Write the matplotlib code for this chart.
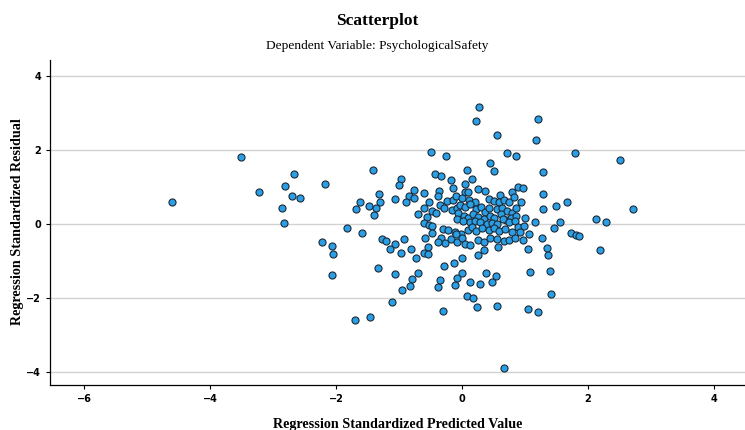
import matplotlib
matplotlib.use("Agg")
import matplotlib.pyplot as plt

# standardized predicted value (x) and standardized residual (y)
pred = [
    -3.50, -4.61, -2.67, -2.81, -3.23, -2.17, -2.70, -2.57, -2.85, -2.82,
    -2.23, -2.07, -2.04, -2.07,
    -0.49, -1.41, -0.97, -1.00, -0.77, -1.31, -0.61, -0.43, -0.84,
    -1.62, -1.69, -1.47, -1.30, -1.37, -1.39, -1.07, -0.89, -0.77, -0.52,
    -0.61, -0.48, -0.70, -0.56, -0.61, -0.52, -0.48, -1.82, -1.58, -1.27,
    -1.21, -0.92, -1.06, -0.59, -0.48, -1.14, -0.97, -0.81, -0.54, -0.60,
    -0.54, -0.73, -1.34, -1.06, -0.70, -0.79, -0.83, -0.95,
    -1.11, -1.46, -1.70,
    -0.31, 0.08, 0.18, 0.24, 0.56, 1.05, 1.21, 0.67, -0.38,
    1.41,
    0.27, 0.22, 0.55, 1.21, 1.17, -0.25, 0.71, 0.85, 0.45, 0.51,
    0.08, -0.34, -0.17, 0.04, 0.15, -0.15, -0.37, 0.25, 0.37, 0.04,
    0.09, 0.88, 0.96, 0.80, 0.61,
    1.80, 2.50, 1.28, 1.28,
    1.29, 1.49, 1.66, 2.72, 2.12, 2.28, 1.56, 1.46, 1.73, 1.81,
    1.85, 1.27, 1.35, 1.36, 2.19, 1.39,
    -0.38, -0.24, -0.14, -0.10, 0.00, 0.11, 0.20, 0.42, 0.50, 0.58,
    0.66, 0.74, 0.83, 0.93, -0.35, -0.28, -0.16, -0.08, -0.03, 0.04,
    0.13, 0.22, 0.30, 0.37, 0.43, 0.55, 0.63, 0.71, 0.80, 0.86,
    -0.41, -0.06, 0.03, 0.10, 0.17, 0.26, 0.35, 0.44, 0.51, 0.62,
    0.69, 0.77, 0.85, -0.08, 0.02, 0.13, 0.21, 0.29, 0.39, 0.47,
    0.56, 0.65, 0.75, 0.84, 1.00, 1.15, -0.30, -0.22, -0.11, -0.02,
    0.09, 0.15, 0.22, 0.31, 0.42, 0.50, 0.59, 0.68, 0.79, 0.88,
    0.99, 1.07, 0.92, -0.33, -0.27, -0.17, -0.09, -0.08, 0.00, 0.04,
    0.12, 0.25, 0.35, 0.44, 0.56, 0.57, 0.66, 0.75, 0.84, 0.96,
    1.04, 0.35, 0.26, -0.38, 0.00, -0.12, -0.29, 0.38, 0.54, 1.08,
    0.00, -0.08, -0.35, -0.11, 0.13, 0.29, 0.48,
]
resid = [
    1.80, 0.60, 1.35, 1.03, 0.86, 1.08, 0.76, 0.69, 0.44, 0.03,
    -0.49, -0.59, -0.81, -1.38,
    1.96, 1.46, 1.22, 1.05, 0.92, 0.82, 0.85, 1.34, 0.76,
    0.59, 0.41, 0.49, 0.60, 0.43, 0.25, 0.68, 0.59, 0.71, 0.59,
    0.42, 0.35, 0.28, 0.19, 0.03, -0.03, -0.06, -0.12, -0.25, -0.41,
    -0.45, -0.41, -0.54, -0.39, -0.24, -0.68, -0.78, -0.67, -0.61, -0.78,
    -0.82, -0.91, -1.18, -1.34, -1.33, -1.49, -1.67, -1.79,
    -2.12, -2.52, -2.59,
    -2.35, -1.96, -2.01, -2.25, -2.22, -2.29, -2.37, -3.89, -1.70,
    -1.88,
    3.16, 2.78, 2.41, 2.84, 2.27, 1.84, 1.91, 1.83, 1.66, 1.42,
    1.46, 1.29, 1.19, 1.07, 1.22, 0.97, 0.90, 0.95, 0.90, 0.87,
    0.86, 1.01, 0.97, 0.86, 0.79,
    1.92, 1.73, 1.41, 0.80,
    0.40, 0.48, 0.59, 0.41, 0.14, 0.05, 0.05, -0.10, -0.24, -0.29,
    -0.32, -0.39, -0.64, -0.85, -0.70, -1.26,
    0.76, 0.63, 0.65, 0.76, 0.71, 0.65, 0.60, 0.68, 0.62, 0.60,
    0.65, 0.59, 0.74, 0.60, 0.51, 0.44, 0.39, 0.42, 0.51, 0.47,
    0.53, 0.41, 0.47, 0.32, 0.44, 0.41, 0.42, 0.35, 0.29, 0.42,
    0.29, 0.31, 0.22, 0.17, 0.26, 0.20, 0.14, 0.22, 0.15, 0.26,
    0.12, 0.17, 0.22, 0.14, 0.08, 0.05, 0.08, 0.06, -0.01, 0.02,
    -0.01, 0.14, 0.06, 0.08, 0.15, 0.06, -0.14, -0.17, -0.21, -0.28,
    -0.15, -0.08, -0.19, -0.12, -0.15, -0.12, -0.19, -0.14, -0.22, -0.08,
    -0.05, -0.28, -0.21, -0.39, -0.52, -0.41, -0.26, -0.48, -0.37, -0.53,
    -0.57, -0.43, -0.48, -0.37, -0.41, -0.61, -0.46, -0.44, -0.37, -0.42,
    -0.68, -0.70, -0.84, -0.49, -0.91, -1.05, -1.14, -1.32, -1.41, -1.30,
    -1.32, -1.47, -1.51, -1.65, -1.58, -1.63, -1.58,
]

x_ticks = [-6, -4, -2, 0, 2, 4]
y_ticks = [-4, -2, 0, 2, 4]

serif = "Liberation Serif"

fig = plt.figure(figsize=(7.45, 4.3), dpi=100)
ax = fig.add_axes([0.067, 0.105, 0.933, 0.755])

ax.scatter(pred, resid, s=26, color="#2a9fe6", edgecolors="#1c2a38",
           linewidths=0.8, zorder=3)

ax.set_xlim(-6.54, 4.49)
ax.set_ylim(-4.35, 4.43)
ax.set_xticks(x_ticks)
ax.set_yticks(y_ticks)
ax.tick_params(labelsize=7, length=3, width=0.8, color="#000000")
for lab in ax.get_xticklabels() + ax.get_yticklabels():
    lab.set_fontweight("bold")

ax.grid(axis="y", color="#d2d2d2", linewidth=1.0, zorder=0)
ax.spines["top"].set_visible(False)
ax.spines["right"].set_visible(False)
ax.spines["left"].set_linewidth(0.9)
ax.spines["bottom"].set_linewidth(0.9)

ax.set_xlabel("Regression Standardized Predicted Value", family=serif,
              fontweight="bold", fontsize=10.2, labelpad=10)
fig.text(0.023, 0.484, "Regression Standardized Residual", family=serif,
         fontweight="bold", fontsize=10.2, rotation=90,
         ha="center", va="center")

fig.text(0.507, 0.951, "Scatterplot", family=serif, fontweight="bold",
         fontsize=12.5, ha="center", va="center")
fig.text(0.507, 0.894, "Dependent Variable: PsychologicalSafety", family=serif,
         fontsize=9.6, ha="center", va="center")

fig.savefig("out.png", dpi=100)
